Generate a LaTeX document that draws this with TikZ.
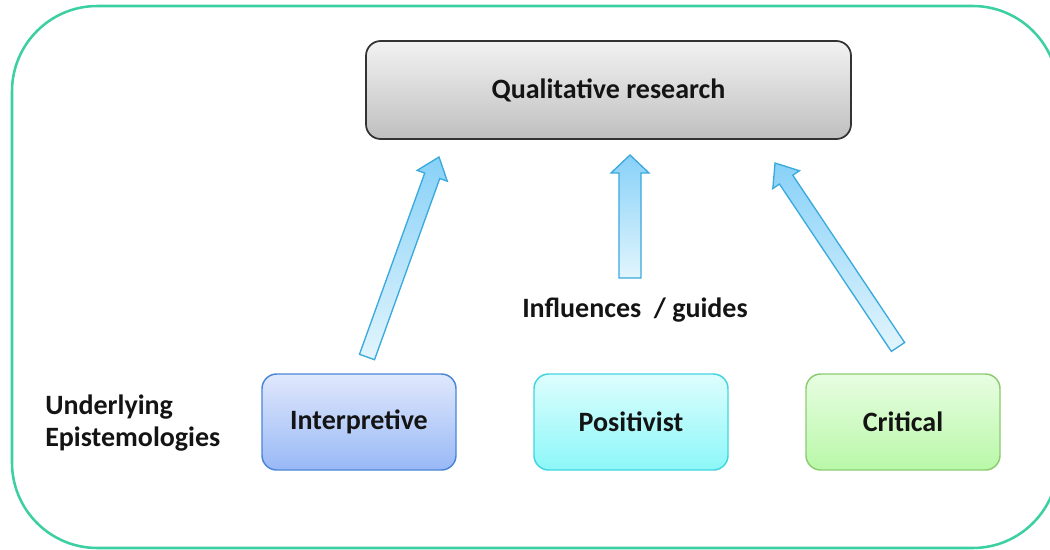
\documentclass[tikz,border=0pt]{standalone}
\usepackage{fontspec}
\setmainfont{Carlito}
\usetikzlibrary{calc}
\definecolor{outerc}{HTML}{3CCFA2}
\definecolor{topbd}{HTML}{333333}
\definecolor{arrbd}{HTML}{3AA9DD}
\definecolor{arrlt}{HTML}{E2F5FD}
\definecolor{arrdk}{HTML}{88D1F8}
\tikzset{
  lbl/.style={font=\fontsize{21}{23.5}\selectfont\bfseries, text=black!92},
  boxbase/.style={rounded corners=11pt, line width=1.1pt, lbl,
    minimum width=145.5pt, minimum height=72pt, inner sep=0pt},
  topbox/.style={boxbase, draw=topbd, line width=1.3pt, top color=gray!10, bottom color=gray!50,
    minimum width=363.75pt, minimum height=73.5pt},
  interp/.style={boxbase, draw={rgb,255:red,74;green,134;blue,216},
    top color={rgb,255:red,224;green,232;blue,252}, bottom color={rgb,255:red,152;green,184;blue,246}},
  posit/.style={boxbase, draw={rgb,255:red,64;green,214;blue,224},
    top color={rgb,255:red,222;green,253;blue,253}, bottom color={rgb,255:red,140;green,247;blue,248}},
  critc/.style={boxbase, draw={rgb,255:red,140;green,204;blue,112},
    top color={rgb,255:red,232;green,253;blue,226}, bottom color={rgb,255:red,184;green,248;blue,168}},
  blockarrow/.style={draw=arrbd, line width=1pt, top color=arrdk, bottom color=arrlt, line join=miter},
}
\newcommand{\blockarr}[6]{% tail coord, angle, length, half shaft, half head, head length
  \begin{scope}[shift={(#1)}, rotate=#2]
    \path[blockarrow] (0,-#4) -- ({#3-#6},-#4) -- ({#3-#6},-#5) -- (#3,0) -- ({#3-#6},#5) -- ({#3-#6},#4) -- (0,#4) -- cycle;
  \end{scope}}
\begin{document}
\begin{tikzpicture}[x=0.75pt, y=-0.75pt]
\useasboundingbox (0,0) rectangle (1050,550);
\draw[outerc, line width=1.9pt, rounded corners=64pt] (12,6) rectangle (1058,548);

\node[topbox] (qr) at (608.5,90) {Qualitative research};
\node[interp] (int) at (359,422) {Interpretive};
\node[posit] (pos) at (631,422) {Positivist};
\node[critc] (cri) at (903,422) {Critical};

\node[lbl, anchor=base west, align=left, inner sep=0pt] (ue) at (45,446) {Underlying\\Epistemologies};
\node[lbl] (ig) at (635,310) {Influences\ \ / guides};

\coordinate (t1) at (367,357);
\coordinate (t2) at (630,278);
\coordinate (t3) at (898,347);
\blockarr{t1}{70.2}{212.6}{8}{16}{20}
\blockarr{t2}{90}{123}{11}{19}{18}
\blockarr{t3}{123.76}{221.3}{8}{16}{20}
\end{tikzpicture}
\end{document}
